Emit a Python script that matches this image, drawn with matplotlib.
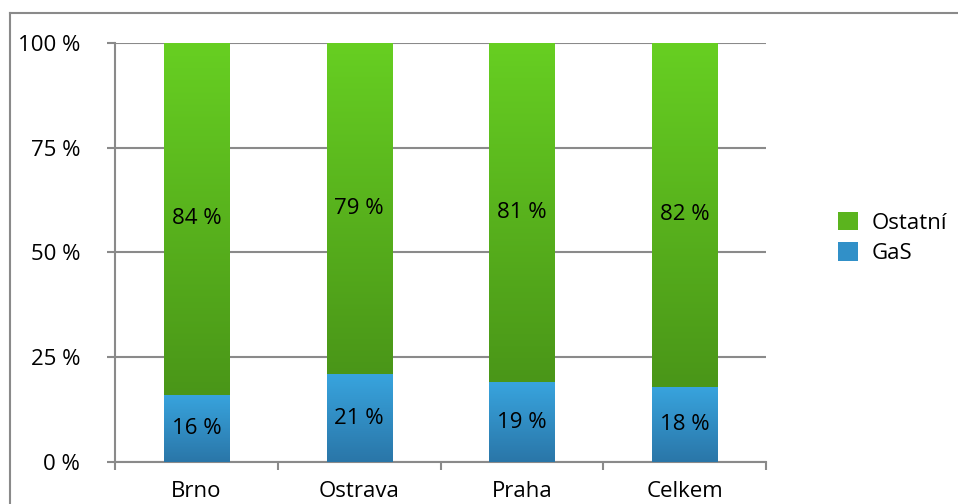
import numpy as np
import matplotlib
matplotlib.use("Agg")
import matplotlib.pyplot as plt
from matplotlib.colors import LinearSegmentedColormap
from matplotlib.patches import Patch
from matplotlib.lines import Line2D

cities = ["Brno", "Ostrava", "Praha", "Celkem"]
gas = [16, 21, 19, 18]
ostatni = [84, 79, 81, 82]
yticks = [0, 25, 50, 75, 100]

plt.rcParams["font.family"] = ["Open Sans", "DejaVu Sans"]
fs = 16

fig = plt.figure(figsize=(9.58, 5.04), dpi=100)
ax = fig.add_axes([115 / 958, 1 - 462 / 504, (766 - 115) / 958, (462 - 43) / 504])

# outer frame (top and left only visible)
fig.add_artist(Line2D([10 / 958, 10 / 958], [0, 1 - 13 / 504], color="#8a8a8a", lw=1.5,
                      transform=fig.transFigure))
fig.add_artist(Line2D([10 / 958, 1], [1 - 13 / 504, 1 - 13 / 504], color="#8a8a8a", lw=1.5,
                      transform=fig.transFigure))

green = LinearSegmentedColormap.from_list("g", ["#4a9618", "#67cf22"])
blue = LinearSegmentedColormap.from_list("b", ["#2a76a8", "#38a4de"])
grad = np.linspace(0, 1, 256).reshape(-1, 1)

x = np.arange(len(cities))
w = 0.4
bars_g = ax.bar(x, gas, w, color="none", edgecolor="none", zorder=3)
bars_o = ax.bar(x, ostatni, w, bottom=gas, color="none", edgecolor="none", zorder=3)

for bars, cmap in ((bars_g, blue), (bars_o, green)):
    for p in bars:
        x0, y0 = p.get_x(), p.get_y()
        im = ax.imshow(grad, cmap=cmap, origin="lower", aspect="auto",
                       extent=[x0, x0 + p.get_width(), y0, y0 + p.get_height()], zorder=3)
        im.set_clip_path(p)

for i in range(len(cities)):
    ax.text(x[i], gas[i] / 2, f"{gas[i]} %", ha="center", va="center", fontsize=fs,
            color="#000000", zorder=4)
    ax.text(x[i], gas[i] + ostatni[i] / 2, f"{ostatni[i]} %", ha="center", va="center",
            fontsize=fs, color="#000000", zorder=4)

ax.set_xlim(-0.5, len(cities) - 0.5)
ax.set_ylim(0, 100)

ax.set_yticks(yticks)
ax.set_yticklabels([f"{t} %" for t in yticks], fontsize=fs)
ax.yaxis.grid(True, color="#8a8a8a", lw=1.5, zorder=1)
ax.set_axisbelow(True)

ax.set_xticks(np.arange(len(cities) + 1) - 0.5)
ax.set_xticklabels([])
ax.set_xticks(x, minor=True)
ax.set_xticklabels(cities, minor=True, fontsize=fs)
ax.tick_params(axis="x", which="minor", length=0, pad=14)
ax.tick_params(axis="x", which="major", length=6, width=1.5, color="#8a8a8a")
ax.tick_params(axis="y", length=6, width=1.5, color="#8a8a8a", pad=19, labelcolor="#000000")
ax.tick_params(axis="x", which="minor", labelcolor="#000000")

for s in ("top", "right"):
    ax.spines[s].set_visible(False)
for s in ("left", "bottom"):
    ax.spines[s].set_color("#8a8a8a")
    ax.spines[s].set_linewidth(1.5)

handles = [Patch(facecolor="#5bb41e", edgecolor="none", label="Ostatní"),
           Patch(facecolor="#3190c8", edgecolor="none", label="GaS")]
fig.legend(handles=handles, loc="center left", bbox_to_anchor=(818 / 958, 1 - 238 / 504),
           frameon=False, fontsize=fs, handlelength=0.9, handleheight=0.9,
           handletextpad=0.6, labelspacing=0.4)

fig.savefig("out.png", dpi=100)
